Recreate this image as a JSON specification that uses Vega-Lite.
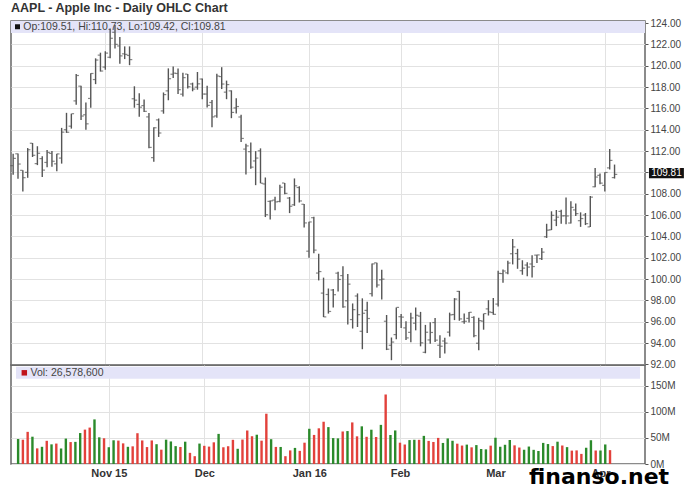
{
  "$schema": "https://vega.github.io/schema/vega-lite/v6.json",
  "background": "white",
  "padding": {"left": 9, "top": 1, "right": 2, "bottom": 5},
  "title": {"text": "AAPL - Apple Inc - Daily OHLC Chart", "anchor": "start", "frame": "group", "fontSize": 12.5, "fontWeight": "bold", "font": "Liberation Sans", "color": "#333333", "offset": 3},
  "config": {
    "font": "Liberation Sans",
    "view": {"stroke": "#666666", "strokeWidth": 1.5},
    "axis": {"gridColor": "#e2e2e2", "gridWidth": 1, "labelFont": "Liberation Sans", "labelColor": "#444444", "labelFontSize": 10, "tickColor": "#555555", "domain": false, "labelOverlap": false}
  },
  "datasets": {
    "px": [
      {"i":1,"d":"2015-10-06","o":110.63,"h":111.74,"l":109.77,"c":111.31,"v":48.2,"dir":"up"},
      {"i":2,"d":"2015-10-07","o":111.74,"h":111.77,"l":109.41,"c":110.78,"v":46.6,"dir":"down"},
      {"i":3,"d":"2015-10-08","o":110.19,"h":110.19,"l":108.21,"c":109.50,"v":61.7,"dir":"down"},
      {"i":4,"d":"2015-10-09","o":110.00,"h":112.28,"l":109.49,"c":112.12,"v":52.4,"dir":"up"},
      {"i":5,"d":"2015-10-12","o":112.73,"h":112.75,"l":111.44,"c":111.60,"v":30.0,"dir":"down"},
      {"i":6,"d":"2015-10-13","o":110.82,"h":112.45,"l":110.68,"c":111.79,"v":33.0,"dir":"up"},
      {"i":7,"d":"2015-10-14","o":111.29,"h":111.52,"l":109.56,"c":110.21,"v":44.5,"dir":"down"},
      {"i":8,"d":"2015-10-15","o":110.93,"h":112.10,"l":110.49,"c":111.86,"v":37.7,"dir":"up"},
      {"i":9,"d":"2015-10-16","o":111.78,"h":112.00,"l":110.53,"c":111.04,"v":39.2,"dir":"down"},
      {"i":10,"d":"2015-10-19","o":110.80,"h":111.75,"l":110.11,"c":111.73,"v":29.8,"dir":"up"},
      {"i":11,"d":"2015-10-20","o":111.34,"h":114.17,"l":110.82,"c":113.77,"v":48.8,"dir":"up"},
      {"i":12,"d":"2015-10-21","o":114.00,"h":115.58,"l":113.70,"c":113.76,"v":42.1,"dir":"down"},
      {"i":13,"d":"2015-10-22","o":114.33,"h":115.50,"l":114.10,"c":115.50,"v":42.5,"dir":"up"},
      {"i":14,"d":"2015-10-23","o":116.70,"h":119.23,"l":116.33,"c":119.08,"v":59.4,"dir":"up"},
      {"i":15,"d":"2015-10-26","o":118.08,"h":118.13,"l":114.92,"c":115.28,"v":66.0,"dir":"down"},
      {"i":16,"d":"2015-10-27","o":115.40,"h":116.54,"l":113.99,"c":114.55,"v":69.9,"dir":"down"},
      {"i":17,"d":"2015-10-28","o":116.93,"h":119.30,"l":116.06,"c":119.27,"v":85.6,"dir":"up"},
      {"i":18,"d":"2015-10-29","o":118.70,"h":120.69,"l":118.27,"c":120.53,"v":51.2,"dir":"up"},
      {"i":19,"d":"2015-10-30","o":120.99,"h":121.22,"l":119.45,"c":119.50,"v":49.4,"dir":"down"},
      {"i":20,"d":"2015-11-02","o":119.87,"h":121.36,"l":119.61,"c":121.18,"v":32.2,"dir":"up"},
      {"i":21,"d":"2015-11-03","o":120.79,"h":123.49,"l":120.70,"c":122.57,"v":45.5,"dir":"up"},
      {"i":22,"d":"2015-11-04","o":123.13,"h":123.82,"l":121.62,"c":122.00,"v":44.9,"dir":"down"},
      {"i":23,"d":"2015-11-05","o":121.85,"h":122.69,"l":120.18,"c":120.92,"v":39.6,"dir":"down"},
      {"i":24,"d":"2015-11-06","o":121.11,"h":121.81,"l":120.62,"c":121.06,"v":33.0,"dir":"up"},
      {"i":25,"d":"2015-11-09","o":120.96,"h":121.81,"l":120.05,"c":120.57,"v":33.9,"dir":"down"},
      {"i":26,"d":"2015-11-10","o":116.90,"h":118.07,"l":116.06,"c":116.77,"v":59.1,"dir":"down"},
      {"i":27,"d":"2015-11-11","o":116.37,"h":117.42,"l":115.21,"c":116.11,"v":45.2,"dir":"down"},
      {"i":28,"d":"2015-11-12","o":116.26,"h":116.82,"l":115.65,"c":115.72,"v":32.5,"dir":"down"},
      {"i":29,"d":"2015-11-13","o":115.20,"h":115.57,"l":112.27,"c":112.34,"v":45.2,"dir":"down"},
      {"i":30,"d":"2015-11-16","o":111.38,"h":114.24,"l":111.00,"c":114.18,"v":38.0,"dir":"up"},
      {"i":31,"d":"2015-11-17","o":114.92,"h":115.05,"l":113.32,"c":113.69,"v":27.5,"dir":"down"},
      {"i":32,"d":"2015-11-18","o":115.76,"h":117.49,"l":115.50,"c":117.29,"v":46.7,"dir":"up"},
      {"i":33,"d":"2015-11-19","o":117.64,"h":119.75,"l":116.76,"c":118.78,"v":43.3,"dir":"up"},
      {"i":34,"d":"2015-11-20","o":119.20,"h":119.92,"l":118.85,"c":119.30,"v":34.3,"dir":"up"},
      {"i":35,"d":"2015-11-23","o":119.27,"h":119.73,"l":117.34,"c":117.75,"v":32.7,"dir":"down"},
      {"i":36,"d":"2015-11-24","o":117.33,"h":119.35,"l":117.12,"c":118.88,"v":42.8,"dir":"up"},
      {"i":37,"d":"2015-11-25","o":119.21,"h":119.23,"l":117.87,"c":118.03,"v":21.4,"dir":"down"},
      {"i":38,"d":"2015-11-27","o":118.29,"h":118.41,"l":117.60,"c":117.81,"v":15.0,"dir":"down"},
      {"i":39,"d":"2015-11-30","o":117.99,"h":119.41,"l":117.75,"c":118.30,"v":39.2,"dir":"up"},
      {"i":40,"d":"2015-12-01","o":118.75,"h":118.81,"l":116.86,"c":117.34,"v":34.9,"dir":"down"},
      {"i":41,"d":"2015-12-02","o":117.34,"h":118.11,"l":116.08,"c":116.28,"v":33.4,"dir":"down"},
      {"i":42,"d":"2015-12-03","o":116.55,"h":116.79,"l":114.22,"c":115.20,"v":41.6,"dir":"down"},
      {"i":43,"d":"2015-12-04","o":115.29,"h":119.25,"l":115.11,"c":119.03,"v":57.8,"dir":"up"},
      {"i":44,"d":"2015-12-07","o":118.98,"h":119.86,"l":117.81,"c":118.28,"v":32.1,"dir":"down"},
      {"i":45,"d":"2015-12-08","o":117.52,"h":118.60,"l":116.86,"c":118.23,"v":34.1,"dir":"down"},
      {"i":46,"d":"2015-12-09","o":117.64,"h":117.69,"l":115.08,"c":115.62,"v":46.4,"dir":"down"},
      {"i":47,"d":"2015-12-10","o":116.04,"h":116.94,"l":115.51,"c":116.17,"v":29.2,"dir":"up"},
      {"i":48,"d":"2015-12-11","o":115.19,"h":115.39,"l":112.85,"c":113.18,"v":46.9,"dir":"down"},
      {"i":49,"d":"2015-12-14","o":112.18,"h":112.68,"l":109.79,"c":112.48,"v":64.3,"dir":"down"},
      {"i":50,"d":"2015-12-15","o":111.94,"h":112.80,"l":110.35,"c":110.49,"v":53.3,"dir":"down"},
      {"i":51,"d":"2015-12-16","o":111.07,"h":111.99,"l":108.80,"c":111.34,"v":56.2,"dir":"up"},
      {"i":52,"d":"2015-12-17","o":112.02,"h":112.25,"l":108.98,"c":108.98,"v":44.8,"dir":"down"},
      {"i":53,"d":"2015-12-18","o":108.91,"h":109.52,"l":105.81,"c":106.03,"v":96.5,"dir":"down"},
      {"i":54,"d":"2015-12-21","o":107.28,"h":107.37,"l":105.57,"c":107.33,"v":47.6,"dir":"up"},
      {"i":55,"d":"2015-12-22","o":107.40,"h":107.72,"l":106.45,"c":107.23,"v":32.8,"dir":"down"},
      {"i":56,"d":"2015-12-23","o":107.27,"h":108.85,"l":107.20,"c":108.61,"v":32.7,"dir":"up"},
      {"i":57,"d":"2015-12-24","o":109.00,"h":109.00,"l":107.95,"c":108.03,"v":15.0,"dir":"down"},
      {"i":58,"d":"2015-12-28","o":107.59,"h":107.69,"l":106.18,"c":106.82,"v":26.1,"dir":"down"},
      {"i":59,"d":"2015-12-29","o":106.96,"h":109.43,"l":106.86,"c":108.74,"v":30.9,"dir":"up"},
      {"i":60,"d":"2015-12-30","o":108.58,"h":108.70,"l":107.18,"c":107.32,"v":25.2,"dir":"down"},
      {"i":61,"d":"2015-12-31","o":107.01,"h":107.03,"l":104.82,"c":105.26,"v":40.9,"dir":"down"},
      {"i":62,"d":"2016-01-04","o":102.61,"h":105.37,"l":102.00,"c":105.35,"v":67.6,"dir":"up"},
      {"i":63,"d":"2016-01-05","o":105.75,"h":105.85,"l":102.41,"c":102.71,"v":55.8,"dir":"down"},
      {"i":64,"d":"2016-01-06","o":100.56,"h":102.37,"l":99.87,"c":100.70,"v":68.5,"dir":"down"},
      {"i":65,"d":"2016-01-07","o":98.68,"h":100.13,"l":96.43,"c":96.45,"v":81.1,"dir":"down"},
      {"i":66,"d":"2016-01-08","o":98.55,"h":99.11,"l":96.76,"c":96.96,"v":70.8,"dir":"up"},
      {"i":67,"d":"2016-01-11","o":98.97,"h":99.06,"l":97.34,"c":98.53,"v":49.7,"dir":"up"},
      {"i":68,"d":"2016-01-12","o":100.55,"h":100.69,"l":98.84,"c":99.96,"v":49.2,"dir":"up"},
      {"i":69,"d":"2016-01-13","o":100.32,"h":101.19,"l":97.30,"c":97.39,"v":62.4,"dir":"down"},
      {"i":70,"d":"2016-01-14","o":97.96,"h":100.48,"l":95.74,"c":99.52,"v":63.2,"dir":"up"},
      {"i":71,"d":"2016-01-15","o":96.20,"h":97.71,"l":95.36,"c":97.13,"v":79.8,"dir":"down"},
      {"i":72,"d":"2016-01-19","o":98.41,"h":98.65,"l":95.50,"c":96.66,"v":53.1,"dir":"down"},
      {"i":73,"d":"2016-01-20","o":95.10,"h":98.19,"l":93.42,"c":96.79,"v":72.3,"dir":"up"},
      {"i":74,"d":"2016-01-21","o":97.06,"h":97.88,"l":94.94,"c":96.30,"v":52.2,"dir":"down"},
      {"i":75,"d":"2016-01-22","o":98.63,"h":101.46,"l":98.37,"c":101.42,"v":65.8,"dir":"up"},
      {"i":76,"d":"2016-01-25","o":101.52,"h":101.53,"l":99.21,"c":99.44,"v":51.8,"dir":"down"},
      {"i":77,"d":"2016-01-26","o":99.93,"h":100.88,"l":98.07,"c":99.99,"v":75.1,"dir":"up"},
      {"i":78,"d":"2016-01-27","o":96.04,"h":96.63,"l":93.34,"c":93.42,"v":133.4,"dir":"down"},
      {"i":79,"d":"2016-01-28","o":93.79,"h":94.52,"l":92.39,"c":94.09,"v":55.7,"dir":"up"},
      {"i":80,"d":"2016-01-29","o":94.79,"h":97.34,"l":94.35,"c":97.34,"v":64.4,"dir":"up"},
      {"i":81,"d":"2016-02-01","o":96.47,"h":96.71,"l":95.40,"c":96.43,"v":40.9,"dir":"down"},
      {"i":82,"d":"2016-02-02","o":95.42,"h":96.04,"l":94.28,"c":94.48,"v":37.4,"dir":"down"},
      {"i":83,"d":"2016-02-03","o":95.00,"h":96.84,"l":94.08,"c":96.35,"v":45.9,"dir":"up"},
      {"i":84,"d":"2016-02-04","o":95.86,"h":97.33,"l":95.19,"c":96.60,"v":46.5,"dir":"up"},
      {"i":85,"d":"2016-02-05","o":96.52,"h":96.92,"l":93.69,"c":94.02,"v":46.4,"dir":"down"},
      {"i":86,"d":"2016-02-08","o":93.13,"h":95.70,"l":93.04,"c":95.01,"v":54.0,"dir":"up"},
      {"i":87,"d":"2016-02-09","o":94.29,"h":95.94,"l":93.93,"c":94.99,"v":44.3,"dir":"down"},
      {"i":88,"d":"2016-02-10","o":95.92,"h":96.35,"l":94.10,"c":94.27,"v":42.3,"dir":"down"},
      {"i":89,"d":"2016-02-11","o":93.79,"h":94.72,"l":92.59,"c":93.70,"v":50.1,"dir":"down"},
      {"i":90,"d":"2016-02-12","o":94.19,"h":94.50,"l":93.01,"c":93.99,"v":40.4,"dir":"up"},
      {"i":91,"d":"2016-02-16","o":95.02,"h":96.85,"l":94.61,"c":96.64,"v":49.1,"dir":"up"},
      {"i":92,"d":"2016-02-17","o":96.67,"h":98.21,"l":96.15,"c":98.12,"v":44.6,"dir":"up"},
      {"i":93,"d":"2016-02-18","o":98.84,"h":98.89,"l":96.09,"c":96.26,"v":39.0,"dir":"down"},
      {"i":94,"d":"2016-02-19","o":96.00,"h":96.76,"l":95.80,"c":96.04,"v":35.4,"dir":"down"},
      {"i":95,"d":"2016-02-22","o":96.31,"h":96.90,"l":95.92,"c":96.88,"v":37.2,"dir":"up"},
      {"i":96,"d":"2016-02-23","o":96.40,"h":96.50,"l":94.55,"c":94.69,"v":32.0,"dir":"down"},
      {"i":97,"d":"2016-02-24","o":93.98,"h":96.38,"l":93.32,"c":96.10,"v":36.3,"dir":"up"},
      {"i":98,"d":"2016-02-25","o":96.05,"h":96.76,"l":95.25,"c":96.76,"v":28.8,"dir":"up"},
      {"i":99,"d":"2016-02-26","o":97.20,"h":98.02,"l":96.58,"c":96.91,"v":28.1,"dir":"up"},
      {"i":100,"d":"2016-02-29","o":96.86,"h":98.23,"l":96.65,"c":96.69,"v":35.2,"dir":"down"},
      {"i":101,"d":"2016-03-01","o":97.65,"h":100.77,"l":97.42,"c":100.53,"v":50.4,"dir":"up"},
      {"i":102,"d":"2016-03-02","o":100.51,"h":100.89,"l":99.64,"c":100.75,"v":33.1,"dir":"up"},
      {"i":103,"d":"2016-03-03","o":100.58,"h":101.71,"l":100.45,"c":101.50,"v":36.9,"dir":"up"},
      {"i":104,"d":"2016-03-04","o":102.37,"h":103.75,"l":101.37,"c":103.01,"v":46.1,"dir":"up"},
      {"i":105,"d":"2016-03-07","o":102.39,"h":102.83,"l":100.96,"c":101.87,"v":35.8,"dir":"down"},
      {"i":106,"d":"2016-03-08","o":100.78,"h":101.76,"l":100.40,"c":101.03,"v":31.6,"dir":"down"},
      {"i":107,"d":"2016-03-09","o":101.31,"h":101.58,"l":100.27,"c":101.12,"v":27.2,"dir":"up"},
      {"i":108,"d":"2016-03-10","o":101.41,"h":102.24,"l":100.15,"c":101.17,"v":33.5,"dir":"up"},
      {"i":109,"d":"2016-03-11","o":102.24,"h":102.28,"l":101.50,"c":102.26,"v":27.2,"dir":"up"},
      {"i":110,"d":"2016-03-14","o":101.91,"h":102.91,"l":101.78,"c":102.52,"v":25.0,"dir":"up"},
      {"i":111,"d":"2016-03-15","o":103.96,"h":105.18,"l":103.85,"c":104.58,"v":40.5,"dir":"up"},
      {"i":112,"d":"2016-03-16","o":104.61,"h":106.35,"l":104.59,"c":105.97,"v":38.3,"dir":"up"},
      {"i":113,"d":"2016-03-17","o":105.52,"h":106.47,"l":104.96,"c":105.80,"v":34.4,"dir":"down"},
      {"i":114,"d":"2016-03-18","o":106.34,"h":106.50,"l":105.19,"c":105.92,"v":42.8,"dir":"up"},
      {"i":115,"d":"2016-03-21","o":105.93,"h":107.65,"l":105.14,"c":105.91,"v":35.5,"dir":"down"},
      {"i":116,"d":"2016-03-22","o":105.25,"h":107.29,"l":105.21,"c":106.72,"v":32.4,"dir":"up"},
      {"i":117,"d":"2016-03-23","o":106.48,"h":107.07,"l":105.90,"c":106.13,"v":25.7,"dir":"down"},
      {"i":118,"d":"2016-03-24","o":105.47,"h":106.25,"l":104.89,"c":105.67,"v":26.1,"dir":"down"},
      {"i":119,"d":"2016-03-28","o":106.00,"h":106.19,"l":105.06,"c":105.19,"v":19.4,"dir":"down"},
      {"i":120,"d":"2016-03-29","o":104.89,"h":107.79,"l":104.88,"c":107.68,"v":31.2,"dir":"up"},
      {"i":121,"d":"2016-03-30","o":108.65,"h":110.42,"l":108.60,"c":109.56,"v":45.6,"dir":"up"},
      {"i":122,"d":"2016-03-31","o":109.72,"h":109.90,"l":108.88,"c":108.99,"v":25.9,"dir":"down"},
      {"i":123,"d":"2016-04-01","o":108.78,"h":110.00,"l":108.20,"c":109.99,"v":25.9,"dir":"up"},
      {"i":124,"d":"2016-04-04","o":110.42,"h":112.19,"l":110.27,"c":111.12,"v":37.5,"dir":"up"},
      {"i":125,"d":"2016-04-05","o":109.51,"h":110.73,"l":109.42,"c":109.81,"v":26.6,"dir":"down"}
    ],
    "one": [{"k": 1}]
  },
  "spacing": 0,
  "bounds": "flush",
  "vconcat": [
    {
      "width": 634,
      "height": 344,
      "layer": [
        {
          "data": {"name": "one"},
          "mark": {"type": "rect", "color": "#e4e4f8"},
          "encoding": {
            "x": {"datum": 0.557, "type": "quantitative", "scale": {"domain": [0.557, 131.28], "nice": false, "zero": false}},
            "x2": {"datum": 131.28},
            "y": {"datum": 123.06, "type": "quantitative", "scale": {"domain": [91.94, 124.19], "nice": false, "zero": false}},
            "y2": {"datum": 124.19}
          }
        },
        {
          "data": {"name": "px"},
          "mark": {"type": "rule", "color": "#555555", "strokeWidth": 1.4},
          "encoding": {
            "x": {"field": "i", "type": "quantitative", "scale": {"domain": [0.557, 131.28], "nice": false, "zero": false},
                  "axis": {"orient": "top", "values": [20, 40, 62, 81, 101, 123], "tickCount": 6, "labels": false, "ticks": false, "domain": false, "grid": true, "title": null}},
            "y": {"field": "l", "type": "quantitative", "scale": {"domain": [91.94, 124.19], "nice": false, "zero": false},
                  "axis": {"orient": "right", "values": [92, 94, 96, 98, 100, 102, 104, 106, 108, 110, 112, 114, 116, 118, 120, 122, 124], "tickCount": 17, "labelOverlap": false,
                           "labelExpr": "datum.value == 110 ? '' : format(datum.value, '.2f')", "tickSize": 3, "labelPadding": 2, "grid": true, "title": null}},
            "y2": {"field": "h"}
          }
        },
        {
          "data": {"name": "px"},
          "mark": {"type": "tick", "orient": "horizontal", "size": 2.5, "thickness": 1.2, "xOffset": -1.5, "color": "#555555"},
          "encoding": {
            "x": {"field": "i", "type": "quantitative", "scale": {"domain": [0.557, 131.28], "nice": false, "zero": false}},
            "y": {"field": "o", "type": "quantitative", "scale": {"domain": [91.94, 124.19], "nice": false, "zero": false}}
          }
        },
        {
          "data": {"name": "px"},
          "mark": {"type": "tick", "orient": "horizontal", "size": 2.5, "thickness": 1.2, "xOffset": 1.5, "color": "#555555"},
          "encoding": {
            "x": {"field": "i", "type": "quantitative", "scale": {"domain": [0.557, 131.28], "nice": false, "zero": false}},
            "y": {"field": "c", "type": "quantitative", "scale": {"domain": [91.94, 124.19], "nice": false, "zero": false}}
          }
        },
        {
          "data": {"name": "one"},
          "mark": {"type": "point", "shape": "square", "filled": true, "size": 25, "color": "#111111", "opacity": 1},
          "encoding": {
            "x": {"datum": 1.9, "type": "quantitative"},
            "y": {"datum": 123.65, "type": "quantitative"}
          }
        },
        {
          "data": {"name": "one"},
          "mark": {"type": "text", "text": "Op:109.51, Hi:110.73, Lo:109.42, Cl:109.81", "align": "left", "baseline": "middle", "fontSize": 10.5, "font": "Liberation Sans", "color": "#444444"},
          "encoding": {
            "x": {"datum": 3.1, "type": "quantitative"},
            "y": {"datum": 123.62, "type": "quantitative"}
          }
        },
        {
          "data": {"name": "one"},
          "mark": {"type": "rect", "color": "#111111"},
          "encoding": {
            "x": {"datum": 132.1, "type": "quantitative"},
            "x2": {"datum": 139.3},
            "y": {"datum": 109.45, "type": "quantitative"},
            "y2": {"datum": 110.4}
          }
        },
        {
          "data": {"name": "one"},
          "mark": {"type": "text", "text": "109.81", "align": "center", "baseline": "middle", "fontSize": 10, "font": "Liberation Sans", "color": "#ffffff"},
          "encoding": {
            "x": {"datum": 135.7, "type": "quantitative"},
            "y": {"datum": 109.92, "type": "quantitative"}
          }
        }
      ]
    },
    {
      "width": 634,
      "height": 99,
      "layer": [
        {
          "data": {"name": "one"},
          "mark": {"type": "rect", "color": "#e4e4f8"},
          "encoding": {
            "x": {"datum": 0.557, "type": "quantitative", "scale": {"domain": [0.557, 131.28], "nice": false, "zero": false}},
            "x2": {"datum": 131.28},
            "y": {"datum": 163.5, "type": "quantitative", "scale": {"domain": [0, 190], "nice": false}},
            "y2": {"datum": 186.5}
          }
        },
        {
          "data": {"name": "px"},
          "mark": {"type": "bar", "size": 2.4},
          "encoding": {
            "x": {"field": "i", "type": "quantitative", "scale": {"domain": [0.557, 131.28], "nice": false, "zero": false},
                  "axis": {"values": [20, 40, 62, 81, 101, 123], "tickCount": 6, "grid": true, "ticks": false, "domain": false, "title": null, "labelOverlap": false,
                           "labelExpr": "datum.value == 20 ? 'Nov 15' : datum.value == 40 ? 'Dec' : datum.value == 62 ? 'Jan 16' : datum.value == 81 ? 'Feb' : datum.value == 101 ? 'Mar' : 'Apr'",
                           "labelFontWeight": "bold", "labelFontSize": 11, "labelColor": "#333333", "labelPadding": 3, "labelFlush": false}},
            "y": {"field": "v", "type": "quantitative", "scale": {"domain": [0, 190], "nice": false},
                  "axis": {"orient": "right", "values": [0, 50, 100, 150], "tickCount": 4, "labelOverlap": false, "labelExpr": "datum.value + 'M'", "tickSize": 3, "labelPadding": 2, "grid": true, "title": null}},
            "color": {"field": "dir", "type": "nominal", "scale": {"domain": ["up", "down"], "range": ["#2b8a2b", "#e2413b"]}, "legend": null}
          }
        },
        {
          "data": {"name": "one"},
          "mark": {"type": "point", "shape": "square", "filled": true, "size": 30, "color": "#c0141c", "opacity": 1},
          "encoding": {
            "x": {"datum": 2.3, "type": "quantitative"},
            "y": {"datum": 175, "type": "quantitative"}
          }
        },
        {
          "data": {"name": "one"},
          "mark": {"type": "text", "text": "Vol: 26,578,600", "align": "left", "baseline": "middle", "fontSize": 10.5, "font": "Liberation Sans", "color": "#444444"},
          "encoding": {
            "x": {"datum": 3.6, "type": "quantitative"},
            "y": {"datum": 175, "type": "quantitative"}
          }
        },
        {
          "data": {"name": "one"},
          "mark": {"type": "text", "text": "finanso.net", "align": "center", "baseline": "alphabetic", "fontSize": 22, "font": "DejaVu Sans", "fontWeight": "bold", "color": "#000000"},
          "encoding": {
            "x": {"datum": 122.7, "type": "quantitative"},
            "y": {"datum": -38, "type": "quantitative"}
          }
        }
      ]
    }
  ]
}
